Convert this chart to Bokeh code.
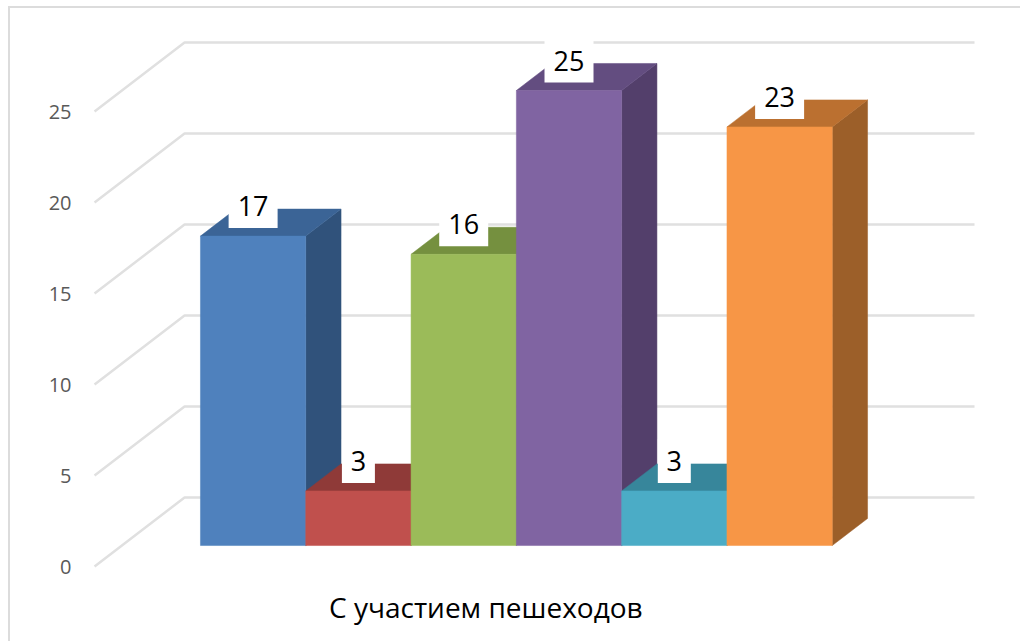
from bokeh.plotting import figure
from bokeh.embed import file_html
from bokeh.resources import INLINE
from bokeh.models import FixedTicker, Range1d
from bokeh.core.properties import value

# ---- data ----
category = "С участием пешеходов"
values = [17, 3, 16, 25, 3, 23]
labels = ["17", "3", "16", "25", "3", "23"]
y_ticks = [0, 5, 10, 15, 20, 25]
front_colors = ["#4f81bd", "#c0504d", "#9bbb59", "#8064a2", "#4bacc6", "#f79646"]
top_colors = ["#3b6496", "#8f3a38", "#75903f", "#634d80", "#37869b", "#bb7030"]
side_colors = ["#30527b", "#7a3230", "#64783a", "#533f6b", "#2f7183", "#9c5f29"]

# ---- oblique projection: 1 bar width and 1 value unit in page pixels ----
BAR_PX, UNIT_PX = 105.3, 18.2
ORIGIN_X, ORIGIN_Y = 172.6, 566.0      # page pixel of x=0, v=0 at the axis plane
DEPTH_X, DEPTH_Y = 90 / BAR_PX, 69 / UNIT_PX   # wall depth in data units
BAR_FRONT, BAR_BACK = 0.304, 0.696     # bar front/back as a fraction of depth
FLOOR_L, FLOOR_R = -0.746, 6.756
LABEL_LIFT = 30 / UNIT_PX
CATEGORY_X = 2.97
FRAME = dict(left=85, right=1022, top=8, bottom=576)


def proj(x, v, d):
    return x + d * DEPTH_X, v + d * DEPTH_Y


p = figure(
    width=1012, height=635, output_backend="svg", toolbar_location=None,
    min_border_left=FRAME["left"] - 10, min_border_right=0,
    min_border_top=0, min_border_bottom=643 - FRAME["bottom"],
    x_range=Range1d((FRAME["left"] - ORIGIN_X) / BAR_PX, (FRAME["right"] - ORIGIN_X) / BAR_PX),
    y_range=Range1d((ORIGIN_Y - FRAME["bottom"]) / UNIT_PX, (ORIGIN_Y - FRAME["top"]) / UNIT_PX),
    outline_line_color=None, background_fill_color="white",
)
p.styles = {
    "border-left": "2px solid #dcdcdc",
    "border-top": "2px solid #dcdcdc",
    "margin-top": "6px",
    "margin-left": "8px",
}
p.grid.visible = False

# axes
ya = p.yaxis[0]
ya.ticker = FixedTicker(ticks=y_ticks)
ya.axis_line_color = None
ya.major_tick_line_color = None
ya.minor_tick_line_color = None
ya.major_label_standoff = 8
ya.major_label_text_font = "Open Sans"
ya.major_label_text_font_size = "20px"
ya.major_label_text_color = "#595959"

xa = p.xaxis[0]
xa.ticker = FixedTicker(ticks=[CATEGORY_X])
xa.major_label_overrides = {CATEGORY_X: category}
xa.axis_line_color = None
xa.major_tick_line_color = None
xa.minor_tick_line_color = None
xa.major_label_standoff = 5
xa.major_label_text_font = "Open Sans"
xa.major_label_text_font_size = "28px"
xa.major_label_text_color = "#000000"

# walls: diagonal side lines + back-wall lines
gx, gy = [], []
for t in y_ticks:
    x0, y0 = proj(FLOOR_L, t, 0)
    x1, y1 = proj(FLOOR_L, t, 1)
    x2, y2 = proj(FLOOR_R, t, 1)
    gx.append([x0, x1, x2])
    gy.append([y0, y1, y2])
p.multi_line(gx, gy, line_color="#e0e0e0", line_width=2.5)

# bars: left to right, each as side, top and front faces
xs, ys, cols = [], [], []
for i, v in enumerate(values):
    l, r = i, i + 1
    faces = [
        ([(r, 0, BAR_FRONT), (r, 0, BAR_BACK), (r, v, BAR_BACK), (r, v, BAR_FRONT)], side_colors[i]),
        ([(l, v, BAR_FRONT), (r, v, BAR_FRONT), (r, v, BAR_BACK), (l, v, BAR_BACK)], top_colors[i]),
        ([(l, 0, BAR_FRONT), (r, 0, BAR_FRONT), (r, v, BAR_FRONT), (l, v, BAR_FRONT)], front_colors[i]),
    ]
    for pts, c in faces:
        pr = [proj(*q) for q in pts]
        xs.append([a for a, _ in pr])
        ys.append([b for _, b in pr])
        cols.append(c)
p.patches(xs, ys, fill_color=cols, line_color=cols, line_width=0.5)

# data labels
lx = [proj(i + 0.5, v + LABEL_LIFT, BAR_FRONT)[0] for i, v in enumerate(values)]
ly = [proj(i + 0.5, v + LABEL_LIFT, BAR_FRONT)[1] for i, v in enumerate(values)]
box_w = [16 * len(s) + 17 for s in labels]
p.rect(lx, ly, width=box_w, height=44, width_units="screen", height_units="screen",
       fill_color="white", line_color=None)
p.text(lx, ly, text=labels, text_align="center", text_baseline="middle",
       text_font=value("Open Sans"), text_font_size="27px", text_color="#000000")

open("out.html", "w").write(file_html(p, INLINE))
